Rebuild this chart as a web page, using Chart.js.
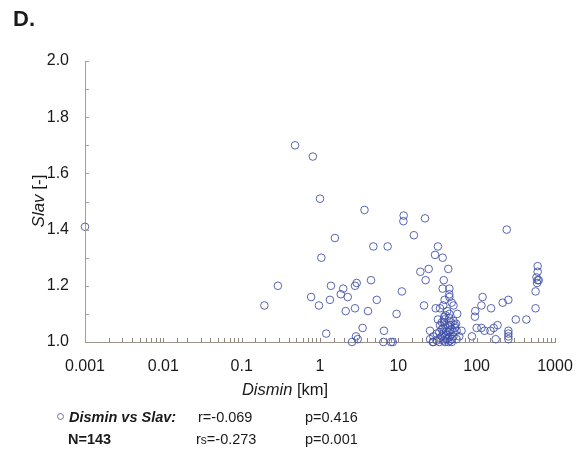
<!DOCTYPE html>
<html><head><meta charset="utf-8">
<script src="https://cdn.jsdelivr.net/npm/chart.js@4"></script>
<style>
html,body{margin:0;padding:0;background:#fff;}
#wrap{position:relative;width:584px;height:453px;font-family:"Liberation Sans",Arial,sans-serif;color:#1a1a1a;}
#c{position:absolute;left:0;top:0;}
.t{position:absolute;white-space:nowrap;line-height:1;}
</style></head><body>
<div id="wrap">
<canvas id="c" width="584" height="453"></canvas>
<div class="t" style="left:13px;top:8px;font-size:22px;font-weight:bold;">D.</div>
<div class="t" style="left:38px;top:201px;font-size:17px;transform:translate(-50%,-50%) rotate(-90deg);"><i>Slav</i> [-]</div>
<div class="t" style="left:285px;top:389px;font-size:16.5px;transform:translate(-50%,-50%);"><i>Dismin</i> [km]</div>
<div class="t" style="left:57px;top:410px;font-size:14.5px;"><span style="display:inline-block;width:5px;height:5px;border:1px solid #6a74a8;border-radius:50%;vertical-align:2px;margin-right:5px;"></span><b><i>Dismin vs Slav:</i></b></div>
<div class="t" style="left:198px;top:410px;font-size:14.5px;">r=-0.069</div>
<div class="t" style="left:305px;top:410px;font-size:14.5px;">p=0.416</div>
<div class="t" style="left:68px;top:432px;font-size:14.5px;font-weight:bold;">N=143</div>
<div class="t" style="left:196px;top:432px;font-size:14.5px;">r<span style="font-size:12px;">s</span>=-0.273</div>
<div class="t" style="left:305px;top:432px;font-size:14.5px;">p=0.001</div>
</div>
<script>
const dismin = [
0.001,0.48,0.81,1.0,1.04,1.55,3.7,11.7,11.6,21.9,15.8,4.8,7.3,0.29,0.195,0.77,0.97,1.34,1.38,1.84,1.98,2.26,2.8,2.94,4.48,2.13,2.8,4.1,5.3,11.1,9.5,1.2,3.5,2.88,3.03,2.56,6.56,6.43,8.06,8.5,
21.3,19.1,24.4,22.3,30,25.4,25.4,27.5,242,32,29.4,36.8,43.4,38,36.8,44.8,44.8,44.8,39,48,34,37.5,50.6,56.5,38.5,38.5,38.5,44.8,44.8,47,50.6,52.5,54.5,64,
119,115,153,215,254,96,95,100,87,115,126,150,165,185,175,254,254,254,254,316,431,565,565,600,600,580,600,620,590,
28,28,30.9,30.9,33.3,33.3,34.1,35.8,35.8,37.6,37.6,37.6,39.4,39.4,39.4,41.4,41.4,41.4,43.5,43.5,43.5,43.5,45.7,45.7,45.7,48,48,48,50.4,50.4,52.8,55.5,55.5,60,36,32,40,42,34,46
];
const slav = [
1.41,1.70,1.66,1.51,1.30,1.37,1.47,1.45,1.43,1.44,1.38,1.34,1.34,1.20,1.13,1.16,1.13,1.15,1.20,1.17,1.19,1.16,1.20,1.21,1.22,1.11,1.12,1.11,1.15,1.18,1.10,1.03,1.05,1.02,1.01,1.00,1.04,1.00,1.00,1.00,
1.13,1.25,1.26,1.22,1.12,1.04,1.01,1.00,1.40,1.34,1.31,1.30,1.26,1.22,1.19,1.19,1.17,1.16,1.15,1.14,1.12,1.13,1.13,1.10,1.09,1.08,1.07,1.10,1.085,1.07,1.075,1.06,1.065,1.04,
1.16,1.13,1.12,1.14,1.15,1.11,1.09,1.05,1.02,1.05,1.04,1.04,1.05,1.06,1.01,1.04,1.03,1.02,1.01,1.08,1.08,1.12,1.18,1.27,1.25,1.23,1.22,1.22,1.21,
1.02,1.00,1.005,1.03,1.035,1.00,1.015,1.02,1.045,1.05,1.03,1.005,1.00,1.02,1.06,1.025,1.01,1.04,1.00,1.015,1.035,1.055,1.02,1.005,1.04,1.00,1.01,1.045,1.02,1.035,1.05,1.04,1.01,1.02,1.07,1.08,1.095,1.11,1.06,1.06
];
const xTickLabels = ['0.001','0.01','0.1','1','10','100','1000'];
const yTickLabels = ['1.0','1.2','1.4','1.6','1.8','2.0'];

const points = dismin.map((x,i)=>({x:x,y:slav[i]}));

const innerTicks = {
  id:'innerTicks',
  afterDraw(chart){
    const ctx = chart.ctx, xs = chart.scales.x, ys = chart.scales.y, a = chart.chartArea;
    ctx.save();
    ctx.lineWidth = 1;
    ctx.strokeStyle = '#8f8578';
    xs.ticks.forEach(t=>{
      const px = Math.round(xs.getPixelForValue(t.value))+0.5;
      if (px < a.left+2) return;
      ctx.beginPath(); ctx.moveTo(px, a.bottom); ctx.lineTo(px, a.bottom-4); ctx.stroke();
    });
    ctx.strokeStyle = '#a0a0a0';
    ys.ticks.forEach(t=>{
      const py = Math.round(ys.getPixelForValue(t.value))+0.5;
      if (py > a.bottom-2) return;
      ctx.beginPath(); ctx.moveTo(a.left, py); ctx.lineTo(a.left+4, py); ctx.stroke();
    });
    ctx.restore();
  }
};

new Chart(document.getElementById('c'), {
  type:'scatter',
  data:{datasets:[{
    label:'Dismin vs Slav',
    data:points,
    pointStyle:'circle',
    pointRadius:3.8,
    pointHoverRadius:3.8,
    borderWidth:1,
    borderColor:'rgba(60,76,165,0.85)',
    backgroundColor:'rgba(0,0,0,0)',
    clip:false
  }]},
  options:{
    responsive:false,
    animation:false,
    events:[],
    layout:{padding:{left:0,top:61,right:29,bottom:70}},
    plugins:{legend:{display:false},tooltip:{enabled:false}},
    scales:{
      x:{
        type:'logarithmic',
        min:0.001,max:1000,
        grid:{display:false,drawTicks:false},
        border:{display:true,color:'#9a948c',width:1},
        ticks:{
          autoSkip:false,maxRotation:0,padding:15,
          color:'#1a1a1a',
          font:{family:'"Liberation Sans", Arial, sans-serif',size:16},
          callback:(v)=>{
            const l = Math.log10(v);
            if (Math.abs(l-Math.round(l))<1e-6){
              const idx = Math.round(l)+3;
              return xTickLabels[idx] !== undefined ? xTickLabels[idx] : '';
            }
            return '';
          }
        },
        afterFit:(s)=>{s.height=41; s.paddingRight=20; s.paddingLeft=0;}
      },
      y:{
        min:1.0,max:2.0,
        grid:{display:false,drawTicks:false},
        border:{display:true,color:'#a0a0a0',width:1},
        ticks:{
          stepSize:0.1,autoSkip:false,padding:16,
          color:'#1a1a1a',
          font:{family:'"Liberation Sans", Arial, sans-serif',size:16},
          callback:(v)=>{
            const k = Math.round(v*10);
            if (k%2===0){ return yTickLabels[(k-10)/2]; }
            return '';
          }
        },
        afterFit:(s)=>{s.width=85;}
      }
    }
  },
  plugins:[innerTicks]
});
</script>
</body></html>
